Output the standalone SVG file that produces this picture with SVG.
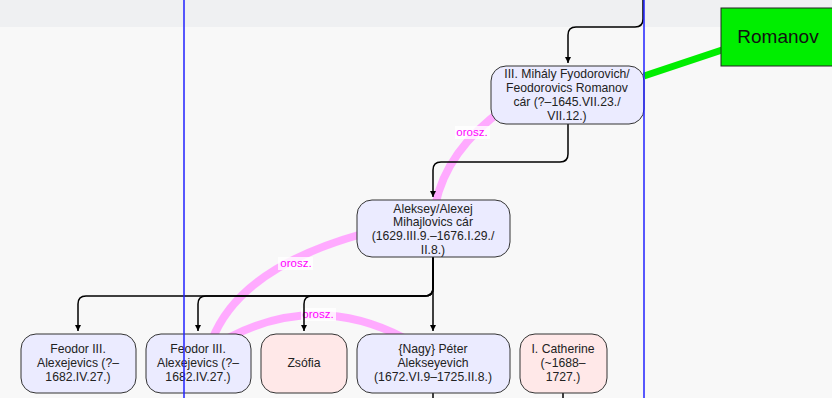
<svg xmlns="http://www.w3.org/2000/svg" width="832" height="398" viewBox="0 0 832 398">
<defs>
<marker id="ah" markerWidth="10" markerHeight="10" refX="6" refY="5" orient="auto" markerUnits="userSpaceOnUse" viewBox="0 0 10 10"><path d="M0,0 L10,5 L0,10 z" fill="#000" transform="translate(-4,0)"/></marker>
<style>
.n{stroke:#333;stroke-width:1}
.m{fill:#ebebff}
.f{fill:#ffe8e8}
.t{font-family:"Liberation Sans",Arial,sans-serif;font-size:12.2px;fill:#222;text-anchor:middle}
.c{fill:none;stroke:#000;stroke-width:1.5}
.p{fill:none;stroke:#ffaaff;stroke-width:8}
.l{font-family:"Liberation Sans",Arial,sans-serif;font-size:11.5px;fill:#ff00ff;text-anchor:middle}
.bl{stroke:#2222ff;stroke-width:1.5}
</style>
</defs>
<rect x="0" y="0" width="832" height="398" fill="#f8f8f8"/>
<rect x="0" y="0" width="832" height="27" fill="#eff0f2"/>
<g id="marriages">
<path class="p" d="M505,108 Q446,150 435,206"/>
<path class="p" d="M362,234 Q240,268 212,340"/>
<path class="p" d="M228,338 Q316,292 404,338"/>
<rect x="455" y="126" width="35" height="13" fill="#fff" opacity="0.8"/>
<text class="l" x="472" y="136">orosz.</text>
<rect x="278" y="257" width="35" height="13" fill="#fff" opacity="0.8"/>
<text class="l" x="296" y="267">orosz.</text>
<rect x="301" y="308" width="35" height="13" fill="#fff" opacity="0.8"/>
<text class="l" x="318" y="318">orosz.</text>
</g>
<g id="connectors">
<path class="c" d="M643,0 V19 Q643,27 635,27 H576 Q568,27 568,35 V63" marker-end="url(#ah)"/>
<path class="c" d="M568,124 V154 Q568,162 560,162 H441 Q433,162 433,170 V197" marker-end="url(#ah)"/>
<path class="c" d="M433,257 V331" marker-end="url(#ah)"/>
<path class="c" d="M433,257 V288 Q433,296 425,296 H86 Q78,296 78,304 V331" marker-end="url(#ah)"/>
<path class="c" d="M433,257 V288 Q433,296 425,296 H206 Q198,296 198,304 V331" marker-end="url(#ah)"/>
<path class="c" d="M433,257 V288 Q433,296 425,296 H312 Q304,296 304,304 V331" marker-end="url(#ah)"/>
<path class="c" d="M433,393 V398"/>
<path class="c" d="M563,393 V398"/>
<line x1="644" y1="76" x2="722" y2="50" stroke="#00ee00" stroke-width="7"/>
</g>
<g id="romanov">
<rect x="721" y="8" width="115" height="58" fill="#00ee00" stroke="#222" stroke-width="1"/>
<text x="778" y="43" font-family="Liberation Sans,Arial,sans-serif" font-size="19" fill="#111" text-anchor="middle">Romanov</text>
</g>
<g id="mihaly">
<rect class="n m" x="491" y="66" width="153" height="58" rx="15"/>
<text class="t"><tspan x="567" y="78">III. Mihály Fyodorovich/</tspan><tspan x="567" y="92">Feodorovics Romanov</tspan><tspan x="567" y="106">cár (?–1645.VII.23./</tspan><tspan x="567" y="120">VII.12.)</tspan></text>
</g>
<g id="aleksey">
<rect class="n m" x="357" y="200" width="153" height="57" rx="15"/>
<text class="t"><tspan x="433" y="213">Aleksey/Alexej</tspan><tspan x="433" y="226">Mihajlovics cár</tspan><tspan x="433" y="240">(1629.III.9.–1676.I.29./</tspan><tspan x="433" y="254">II.8.)</tspan></text>
</g>
<g id="feodor1">
<rect class="n m" x="21" y="334" width="115" height="59" rx="15"/>
<text class="t"><tspan x="78" y="353">Feodor III.</tspan><tspan x="78" y="367">Alexejevics (?–</tspan><tspan x="78" y="381">1682.IV.27.)</tspan></text>
</g>
<g id="feodor2">
<rect class="n m" x="146" y="334" width="105" height="59" rx="15"/>
<text class="t"><tspan x="198" y="353">Feodor III.</tspan><tspan x="198" y="367">Alexejevics (?–</tspan><tspan x="198" y="381">1682.IV.27.)</tspan></text>
</g>
<g id="zsofia">
<rect class="n f" x="261" y="334" width="86" height="59" rx="15"/>
<text class="t" x="304" y="367">Zsófia</text>
</g>
<g id="peter">
<rect class="n m" x="357" y="334" width="153" height="59" rx="15"/>
<text class="t"><tspan x="433" y="353">{Nagy} Péter</tspan><tspan x="433" y="367">Alekseyevich</tspan><tspan x="433" y="381">(1672.VI.9–1725.II.8.)</tspan></text>
</g>
<g id="catherine">
<rect class="n f" x="520" y="334" width="87" height="59" rx="15"/>
<text class="t"><tspan x="563" y="353">I. Catherine</tspan><tspan x="563" y="367">(~1688–</tspan><tspan x="563" y="381">1727.)</tspan></text>
</g>
<g id="guides">
<line class="bl" x1="184" y1="0" x2="184" y2="398"/>
<line class="bl" x1="644" y1="0" x2="644" y2="398"/>
</g>
</svg>
